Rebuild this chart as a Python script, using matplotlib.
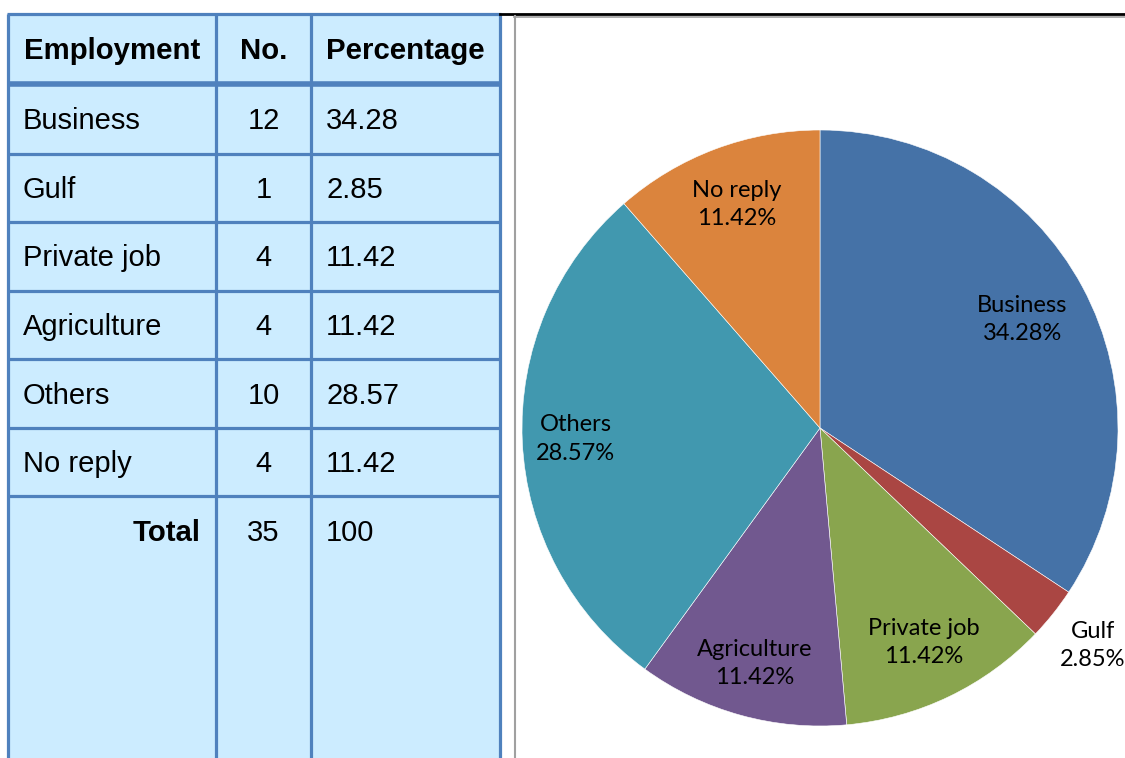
import matplotlib
matplotlib.use("Agg")
import matplotlib.pyplot as plt
from matplotlib.patches import Rectangle
import numpy as np

# ---- data ----
categories = ["Business", "Gulf", "Private job", "Agriculture", "Others", "No reply"]
counts = [12, 1, 4, 4, 10, 4]
pct_labels = ["34.28", "2.85", "11.42", "11.42", "28.57", "11.42"]
total_count = 35
total_pct = "100"
headers = ["Employment", "No.", "Percentage"]

colors = ["#4572A7", "#AA4643", "#89A54E", "#71588F", "#4198AF", "#DB843D"]
label_dist = [0.77, 1.17, 0.80, 0.82, 0.82, 0.80]

W, H = 1125, 758
fig = plt.figure(figsize=(W / 100, H / 100), dpi=100)
fig.patch.set_facecolor("white")

# ---- table (pixel coordinates) ----
tax = fig.add_axes([0, 0, 1, 1])
tax.set_xlim(0, W)
tax.set_ylim(H, 0)
tax.axis("off")

border = "#4F81BD"
bg = "#CCECFF"
col_x = [8, 216, 311, 500]
row_y = [14, 84, 154, 222, 291, 359, 428, 496]
bottom = 770

tax.add_patch(Rectangle((col_x[0], row_y[0]), col_x[-1] - col_x[0], bottom - row_y[0],
                        facecolor=bg, edgecolor="none", zorder=0))
for x in col_x:
    tax.plot([x, x], [row_y[0], bottom], color=border, lw=2.3, zorder=2, solid_capstyle="butt")
for i, y in enumerate(row_y):
    lw = 4.0 if i == 1 else 2.3
    tax.plot([col_x[0] - 1, col_x[-1] + 1], [y, y], color=border, lw=lw, zorder=2, solid_capstyle="butt")

tfont = "Liberation Sans"
fs = 21
bfs = 21.2
hy = (row_y[0] + row_y[1]) / 2 + 10
for j, h in enumerate(headers):
    tax.text((col_x[j] + col_x[j + 1]) / 2, hy, h, ha="center", va="baseline",
             fontsize=bfs, fontweight="bold", family=tfont, zorder=3)

for i, (cat, n, p) in enumerate(zip(categories, counts, pct_labels)):
    cy = (row_y[i + 1] + row_y[i + 2]) / 2 + 10
    tax.text(col_x[0] + 15, cy, cat, ha="left", va="baseline", fontsize=fs, family=tfont, zorder=3)
    tax.text((col_x[1] + col_x[2]) / 2, cy, str(n), ha="center", va="baseline", fontsize=fs, family=tfont, zorder=3)
    tax.text(col_x[2] + 15, cy, p, ha="left", va="baseline", fontsize=fs, family=tfont, zorder=3)

ty = row_y[-1] + 45
tax.text(col_x[1] - 15, ty, "Total", ha="right", va="baseline", fontsize=bfs,
         fontweight="bold", family=tfont, zorder=3)
tax.text((col_x[1] + col_x[2]) / 2, ty, str(total_count), ha="center", va="baseline", fontsize=fs, family=tfont, zorder=3)
tax.text(col_x[2] + 15, ty, total_pct, ha="left", va="baseline", fontsize=fs, family=tfont, zorder=3)

# chart frame lines
tax.plot([500, W], [14, 14], color="black", lw=2, zorder=2)
tax.plot([514, W], [16.5, 16.5], color="#A0A0A0", lw=1.2, zorder=2)
tax.plot([514.5, 514.5], [16, H], color="#A0A0A0", lw=1.5, zorder=2)

# ---- pie ----
cx, cy0, r = 820, 428, 298
pax = fig.add_axes([(cx - r) / W, (H - cy0 - r) / H, 2 * r / W, 2 * r / H])
wedges, _ = pax.pie(counts, colors=colors, startangle=90, counterclock=False,
                    wedgeprops=dict(edgecolor="white", linewidth=0.4))
pax.set_xlim(-1, 1)
pax.set_ylim(-1, 1)
pax.set_aspect("equal")
pax.axis("off")

for w, cat, p, d in zip(wedges, categories, pct_labels, label_dist):
    ang = np.deg2rad((w.theta1 + w.theta2) / 2)
    pax.text(d * np.cos(ang), d * np.sin(ang), f"{cat}\n{p}%", ha="center", va="center",
             fontsize=17, family="Lato", linespacing=1.42, color="black")

fig.savefig("out.png", dpi=100, facecolor="white")
